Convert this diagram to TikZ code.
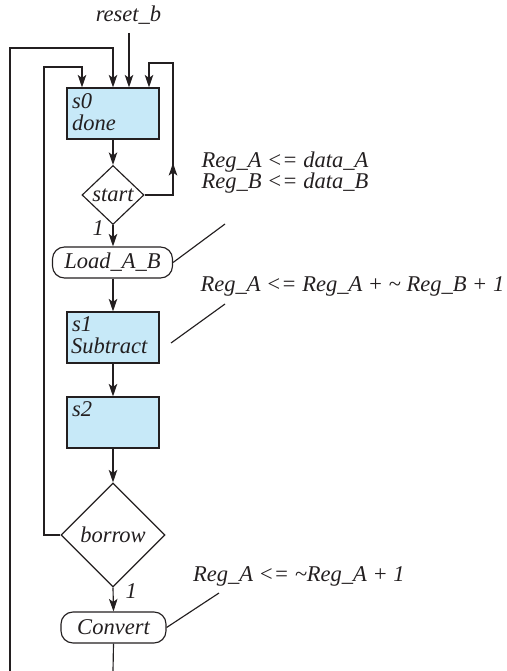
\documentclass[tikz,border=0pt]{standalone}
\usepackage{fontspec}
\setmainfont{Liberation Serif}
\usetikzlibrary{shapes.geometric,arrows.meta,calc}
\definecolor{ink}{RGB}{35,31,32}
\definecolor{stfill}{RGB}{199,233,248}
\begin{document}
\begin{tikzpicture}[x=1bp,y=-1bp,
  line width=1.15bp, draw=ink,
  txt/.style={inner sep=0pt, text=ink, font=\fontsize{22.6}{23}\selectfont\itshape},
  statebox/.style={draw=ink, fill=stfill, minimum width=92bp, minimum height=51bp, inner sep=0pt},
  decbox/.style={draw=ink, diamond, inner sep=0pt, text=ink, font=\fontsize{22.6}{23}\selectfont\itshape},
  condbox/.style={draw=ink, rounded corners=12bp, minimum height=31bp, inner sep=0pt, text=ink, font=\fontsize{22.6}{23}\selectfont\itshape},
  arr/.style={-{Stealth[length=12.5bp,width=8.5bp,inset=3bp]}}
]
\useasboundingbox (0,0) rectangle (507,671);

% states
\node[statebox] (s0) at (113,113.5) {};
\node[txt, anchor=base west] (s0a) at ([xshift=5bp,yshift=-21bp]s0.north west) {s0};
\node[txt, anchor=base west] (s0b) at ([xshift=5bp,yshift=-43bp]s0.north west) {done};

\node[decbox, minimum width=62bp, minimum height=59bp] (start) at (113,195) {start};

\node[condbox, minimum width=120bp] (load) at (112.5,262.5) {Load\_A\_B};

\node[statebox] (s1) at (113,337.5) {};
\node[txt, anchor=base west] (s1a) at ([xshift=5bp,yshift=-20bp]s1.north west) {s1};
\node[txt, anchor=base west] (s1b) at ([xshift=4bp,yshift=-42bp]s1.north west) {Subtract};

\node[statebox] (s2) at (113,422.5) {};
\node[txt, anchor=base west] (s2a) at ([xshift=5bp,yshift=-20bp]s2.north west) {s2};

\node[decbox, minimum width=104bp, minimum height=104bp] (borrow) at (113,535) {borrow};

\node[condbox, minimum width=105bp] (conv) at (113.5,627.5) {Convert};

% labels
\node[txt, anchor=base] (rst) at (128.5,22) {reset\_b};
\node[txt, anchor=base west] (one1) at (92,235) {1};
\node[txt, anchor=base west] (one2) at (125,598) {1};

\node[txt, anchor=base west] (ta1) at (201,167) {Reg\_A <= data\_A};
\node[txt, anchor=base west] (ta2) at (201,188.5) {Reg\_B <= data\_B};
\node[txt, anchor=base west] (tb) at (200,291.5) {Reg\_A <= Reg\_A + \textasciitilde{} Reg\_B + 1};
\node[txt, anchor=base west] (tc) at (192.5,581.5) {Reg\_A <= \textasciitilde{}Reg\_A + 1};

% coordinates
\coordinate (rsttail) at (129,33);
\coordinate (rtop) at (173,63);
\coordinate (rx) at (149,63);
\coordinate (ob) at (10,671);
\coordinate (ot) at (10,48);
\coordinate (it) at (44,67);
\coordinate (ix) at (82,67);
\coordinate (cb) at (113,671);
\coordinate (la) at (225,224);
\coordinate (sa1) at (171,343);
\coordinate (sa2) at (225,304);
\coordinate (ca) at (219,593);

% main flow
\draw[arr] (rsttail) -- (rsttail |- s0.north);
\draw[arr] (s0.south) -- (start.north);
\draw[arr] (start.south) -- (start.south |- load.north);
\draw[arr] (start.south |- load.south) -- (s1.north);
\draw[arr] (s1.south) -- (s2.north);
\draw[arr] (s2.south) -- (borrow.north);
\draw[arr] (borrow.south) -- (conv.north);
\draw (conv.south) -- (cb);

% loops
\draw[arr] (start.east) -| (rtop) -- (rx) -- (rx |- s0.north);
\draw[arr] (start.east -| rtop) -- ++(0,-32);
\draw[arr] (ob) -- (ot) -| (s0.north);
\draw[arr] (borrow.west) -| (it) -- (ix) -- (ix |- s0.north);

% annotation leaders
\draw (load.east) -- (la);
\draw (sa1) -- (sa2);
\draw (conv.east) -- (ca);
\end{tikzpicture}
\end{document}
